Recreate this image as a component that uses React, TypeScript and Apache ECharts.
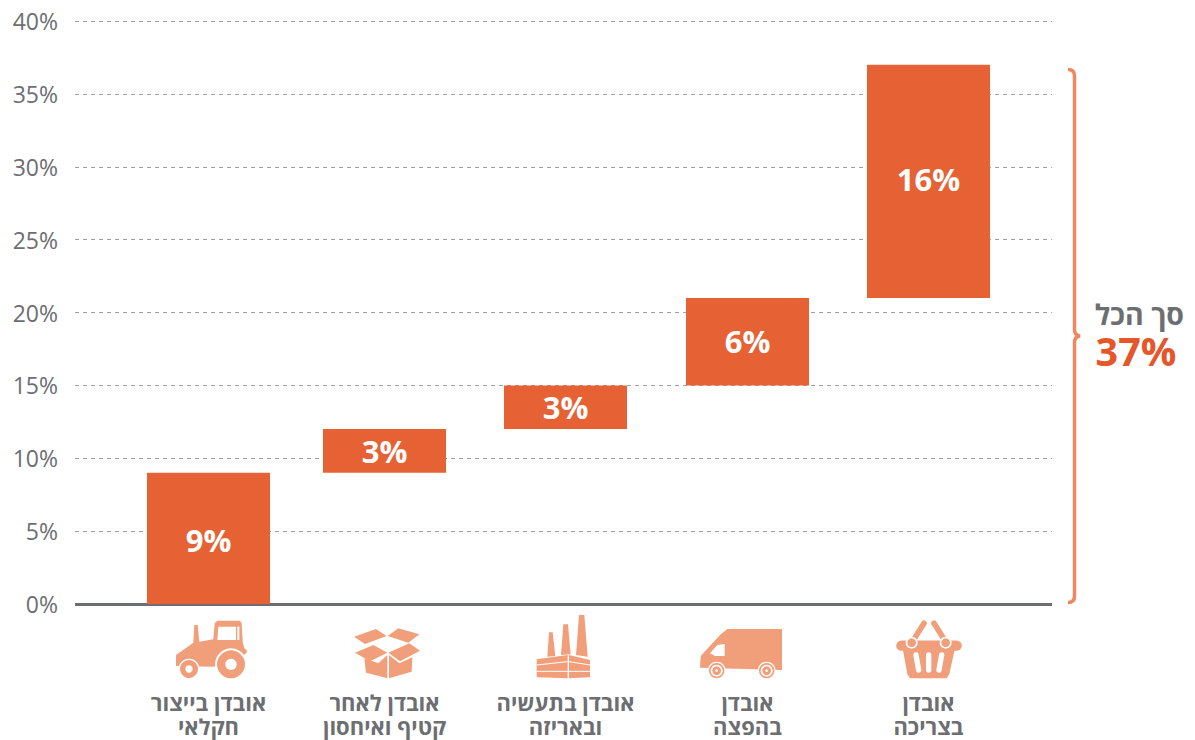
import React, { useEffect, useRef } from "react";
import * as echarts from "echarts";

const categories = ["אובדן בייצור\nחקלאי", "אובדן לאחר\nקטיף ואיחסון", "אובדן בתעשיה\nובאריזה", "אובדן\nבהפצה", "אובדן\nבצריכה"];
const lossShares = [9, 3, 3, 6, 16];
const totalTitle = "סך הכל";
const totalValue = "37%";

const ORANGE = "#e66235";
const ICON = "#f19f7a";
const GRAY = "#6d6e71";
const FONT = '"Open Sans", sans-serif';
const NUDGE = [0, -4, -3, -1, 0];
const LABEL_NUDGE = [2, 0, 0, -1, -2];

echarts.graphic.registerShape(
  "brace",
  echarts.graphic.extendPath(
    "M1068 69.5 Q1074.5 69.5 1074.5 76 L1074.5 330 Q1074.5 335 1080 336 Q1074.5 337 1074.5 342 L1074.5 596 Q1074.5 602.5 1068 602.5",
    {}
  )
);

const poly = (zoomX: number, zoomY: number, pts: number[][], fill = ICON) => ({
  type: "polygon",
  silent: true,
  shape: { points: pts.map(([a, b]) => [zoomX + a / 3, zoomY + b / 3]) },
  style: { fill },
});
const circ = (zoomX: number, zoomY: number, cx: number, cy: number, r: number, fill = ICON) => ({
  type: "circle",
  silent: true,
  shape: { cx: zoomX + cx / 3, cy: zoomY + cy / 3, r: r / 3 },
  style: { fill },
});
const seg = (zoomX: number, zoomY: number, a: number[], b: number[], w: number, stroke = ICON, cap = "round") => ({
  type: "line",
  silent: true,
  shape: { x1: zoomX + a[0] / 3, y1: zoomY + a[1] / 3, x2: zoomX + b[0] / 3, y2: zoomY + b[1] / 3 },
  style: { stroke, lineWidth: w / 3, lineCap: cap },
});

const W = "#ffffff";
const X1 = 130, X2 = 480, X3 = 830, Y0 = 600;

const tractor = [
  poly(X1, Y0, [[138, 165], [190, 128], [193, 75], [203, 75], [208, 125], [250, 118], [254, 70], [262, 62], [330, 62], [335, 70], [338, 125], [343, 145], [350, 150], [350, 158], [330, 175], [250, 200], [138, 198]]),
  poly(X1, Y0, [[265, 80], [318, 80], [318, 120], [262, 120]], W),
  poly(X1, Y0, [[322, 80], [328, 80], [328, 120], [322, 120]], W),
  circ(X1, Y0, 303, 193, 48, W),
  circ(X1, Y0, 303, 193, 42),
  circ(X1, Y0, 303, 193, 17, W),
  circ(X1, Y0, 177, 207, 31, W),
  circ(X1, Y0, 177, 207, 27),
  circ(X1, Y0, 177, 207, 11, W),
];
const box = [
  poly(X1, Y0, [[672, 110], [738, 87], [770, 108], [705, 132]]),
  poly(X1, Y0, [[773, 108], [805, 85], [868, 103], [835, 128]]),
  poly(X1, Y0, [[675, 158], [730, 135], [772, 158], [720, 184]]),
  poly(X1, Y0, [[775, 158], [838, 130], [870, 152], [810, 184]]),
  poly(X1, Y0, [[703, 175], [745, 190], [772, 165], [772, 235], [708, 218]]),
  poly(X1, Y0, [[777, 165], [808, 190], [847, 172], [845, 215], [777, 235]]),
];
const factory = [
  poly(X2, Y0, [[207, 97], [218, 97], [226, 168], [202, 170]]),
  poly(X2, Y0, [[250, 73], [264, 73], [272, 163], [243, 165]]),
  poly(X2, Y0, [[297, 45], [313, 45], [323, 170], [288, 165]]),
  poly(X2, Y0, [[170, 178], [263, 165], [263, 235], [170, 232]]),
  poly(X2, Y0, [[267, 165], [330, 180], [330, 232], [267, 235]]),
  seg(X2, Y0, [170, 195], [263, 185], 3, W, "butt"),
  seg(X2, Y0, [267, 185], [330, 195], 3, W, "butt"),
  seg(X2, Y0, [170, 214], [330, 214], 3, W, "butt"),
];
const van = [
  poly(X2, Y0, [[662, 168], [720, 105], [742, 87], [906, 87], [906, 210], [660, 203]]),
  poly(X2, Y0, [[690, 160], [712, 135], [734, 132], [734, 168], [705, 168]], W),
  circ(X2, Y0, 710, 212, 27, W),
  circ(X2, Y0, 710, 212, 23),
  circ(X2, Y0, 710, 212, 18, W),
  circ(X2, Y0, 710, 212, 13),
  circ(X2, Y0, 710, 212, 4, W),
  circ(X2, Y0, 860, 212, 27, W),
  circ(X2, Y0, 860, 212, 23),
  circ(X2, Y0, 860, 212, 18, W),
  circ(X2, Y0, 860, 212, 13),
  circ(X2, Y0, 860, 212, 4, W),
];
const basket = [
  seg(X3, Y0, [282, 70], [247, 125], 17),
  seg(X3, Y0, [312, 70], [347, 125], 17),
  poly(X3, Y0, [[218, 145], [375, 145], [358, 222], [350, 235], [240, 235], [232, 222]]),
  seg(X3, Y0, [214, 137], [380, 137], 31),
  circ(X3, Y0, 245, 128, 18, W),
  circ(X3, Y0, 347, 128, 18, W),
  circ(X3, Y0, 245, 128, 13),
  circ(X3, Y0, 347, 128, 13),
  seg(X3, Y0, [258, 165], [266, 210], 16, W),
  seg(X3, Y0, [296, 165], [296, 210], 16, W),
  seg(X3, Y0, [335, 165], [327, 210], 16, W),
];

export default function App() {
  const ref = useRef<HTMLDivElement>(null);
  useEffect(() => {
    const chart = echarts.init(ref.current!, undefined, { renderer: "svg" });
    const bases = lossShares.map((_, i) => lossShares.slice(0, i).reduce((a, b) => a + b, 0));
    chart.setOption({
      animation: false,
      backgroundColor: "#ffffff",
      grid: [
        { left: 75, top: 21, width: 977, height: 583 },
        { left: 118.5, top: 21, width: 900, height: 583 },
      ],
      xAxis: [
        {
          gridIndex: 0, type: "value", min: 0, max: 1,
          axisLine: { show: true, onZero: false, lineStyle: { color: GRAY, width: 3, cap: "butt" } },
          axisTick: { show: false }, axisLabel: { show: false }, splitLine: { show: false },
        },
        { gridIndex: 1, type: "category", data: categories, show: false },
      ],
      yAxis: [
        {
          gridIndex: 0, type: "value", min: 0, max: 40, interval: 5,
          axisLine: { show: false }, axisTick: { show: false },
          axisLabel: { formatter: "{value}%", color: GRAY, fontFamily: FONT, fontSize: 23, margin: 17, padding: [0, 0, 2, 0] },
          splitLine: { lineStyle: { color: "#a0a0a0", type: [4, 4], width: 1 } },
        },
        { gridIndex: 1, type: "value", min: 0, max: 40, show: false },
      ],
      series: [
        {
          type: "custom",
          xAxisIndex: 1,
          yAxisIndex: 1,
          z: 5,
          clip: false,
          data: lossShares.map((v, i) => [i, bases[i], bases[i] + v]),
          encode: { x: 0, y: [1, 2] },
          renderItem: (params: any, api: any) => {
            const i = params.dataIndex;
            const top = api.coord([api.value(0), api.value(2)]);
            const bot = api.coord([api.value(0), api.value(1)]);
            const cx = top[0] + NUDGE[i];
            const barW = 123;
            return {
              type: "group",
              children: [
                { type: "rect", shape: { x: cx - barW / 2, y: top[1], width: barW, height: bot[1] - top[1] }, style: { fill: ORANGE } },
                {
                  type: "text",
                  style: {
                    text: lossShares[i] + "%", x: cx, y: (top[1] + bot[1]) / 2 + LABEL_NUDGE[i],
                    align: "center", verticalAlign: "middle", fill: "#ffffff",
                    font: `700 31px ${FONT}`,
                  },
                },
                {
                  type: "text",
                  style: {
                    text: categories[i], x: cx, y: 690, align: "center", verticalAlign: "top",
                    fill: GRAY, font: `700 22px ${FONT}`, lineHeight: 24,
                  },
                },
              ],
            };
          },
        },
      ],
      graphic: [
        { type: "brace", silent: true, x: 0, y: 0, style: { fill: "none", stroke: "#f0875f", lineWidth: 3.5 } },
        { type: "text", silent: true, style: { text: totalTitle, x: 1184, y: 314, align: "right", verticalAlign: "middle", fill: GRAY, font: `700 28.5px ${FONT}` } },
        { type: "text", silent: true, style: { text: totalValue, x: 1136, y: 351, align: "center", verticalAlign: "middle", fill: "#e5562a", font: `700 39.5px ${FONT}` } },
        ...tractor, ...box, ...factory, ...van, ...basket,
      ],
    });
    return () => chart.dispose();
  }, []);
  return <div ref={ref} style={{ position: "fixed", left: 0, top: 0, width: 1195, height: 740 }} />;
}
